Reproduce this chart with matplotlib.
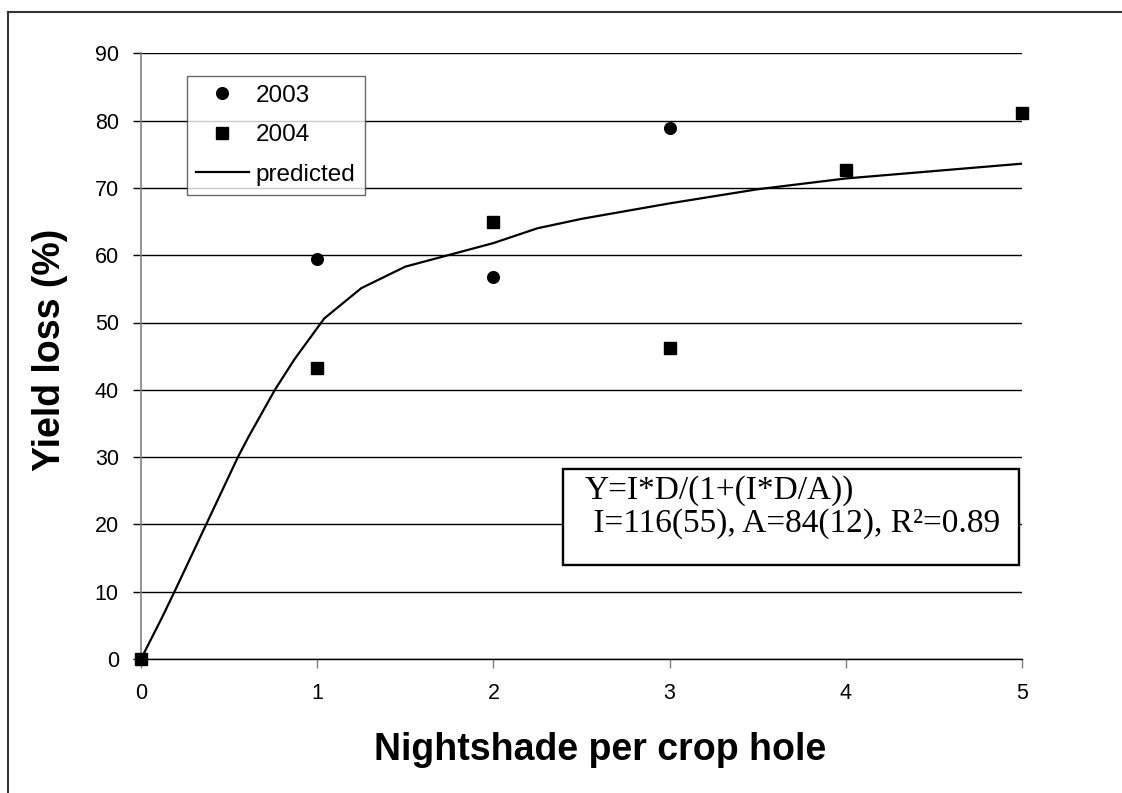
import matplotlib
matplotlib.use("Agg")
import matplotlib.pyplot as plt
from matplotlib.lines import Line2D
from matplotlib.patches import Rectangle

plt.rcParams["font.family"] = ["Liberation Sans", "DejaVu Sans"]

# observed yield loss by nightshade density
density_2003 = [1, 2, 3]
loss_2003 = [59.5, 56.8, 78.9]
density_2004 = [0, 1, 2, 3, 4, 5]
loss_2004 = [0.0, 43.2, 64.9, 46.2, 72.6, 81.2]

# fitted curve
density_pred = [0, 0.12, 0.19, 0.37, 0.55, 0.61, 0.76, 0.87, 1.04, 1.25,
                1.5, 2.0, 2.25, 2.5, 3.0, 3.5, 4.0, 5.0]
loss_pred = [0, 6.2, 10, 20, 30, 33, 40, 44.5, 50.6, 55.1,
             58.3, 61.8, 64.0, 65.4, 67.7, 69.8, 71.4, 73.6]

yticks = list(range(0, 91, 10))
xticks = [0, 1, 2, 3, 4, 5]

W, H = 1122, 793
fig = plt.figure(figsize=(W / 100, H / 100), dpi=100)
ax = fig.add_axes([141 / W, 1 - 659 / H, (1022 - 141) / W, (659 - 53.3) / H])

ax.plot(density_pred, loss_pred, color="black", lw=1.6, label="predicted", zorder=3)
ax.plot(density_2003, loss_2003, "o", color="black", ms=8.4, label="2003",
        zorder=4, clip_on=False)
ax.plot(density_2004, loss_2004, "s", color="black", ms=8.2, label="2004",
        zorder=4, clip_on=False)

ax.set_xlim(0, 5)
ax.set_ylim(0, 90)
ax.set_xticks(xticks)
ax.set_yticks(yticks)
ax.yaxis.grid(True, color="black", lw=1.0)
ax.set_axisbelow(True)

for s in ("top", "right"):
    ax.spines[s].set_visible(False)
ax.spines["left"].set_color("#808080")
ax.spines["left"].set_linewidth(1.2)
ax.spines["bottom"].set_color("black")
ax.spines["bottom"].set_linewidth(1.0)

ax.tick_params(axis="y", direction="out", length=6, width=1, color="black",
               pad=10, labelsize=15.5)
ax.tick_params(axis="x", direction="out", length=6.5, width=1, color="#808080",
               pad=11, labelsize=15.5)

handles, labels = ax.get_legend_handles_labels()
order = [1, 2, 0]
leg = ax.legend([handles[i] for i in order], [labels[i] for i in order],
                loc="upper left", bbox_to_anchor=((186.7 - 141) / (1022 - 141),
                                                  1 - (75.7 - 53.3) / (659 - 53.3)),
                borderaxespad=0, fontsize=17.5, frameon=True, fancybox=False,
                handlelength=2.18, handletextpad=0.28, borderpad=0.38,
                labelspacing=0.72)
leg.get_frame().set_edgecolor("#404040")
leg.get_frame().set_linewidth(1.0)

# equation box
fig.add_artist(Rectangle((563 / W, 1 - 564.7 / H), (1019 - 563) / W, (564.7 - 468.7) / H,
                         transform=fig.transFigure, fill=True, facecolor="white",
                         edgecolor="black", lw=1.7, zorder=5))
fig.text(585 / W, 1 - 491 / H, "Y=I*D/(1+(I*D/A))", family="Liberation Serif",
         fontsize=24, va="center", ha="left", zorder=6)
fig.text(585 / W, 1 - 524 / H, " I=116(55), A=84(12), R\u00b2=0.89", family="Liberation Serif",
         fontsize=24, va="center", ha="left", zorder=6)

fig.text(600 / W, 1 - 750 / H, "Nightshade per crop hole", fontsize=27,
         fontweight="bold", ha="center", va="center")
fig.text(50 / W, 1 - 350 / H, "Yield loss (%)", fontsize=27, fontweight="bold",
         rotation=90, ha="center", va="center")

# outer frame
fig.add_artist(Line2D([8 / W, 8 / W], [0, 1 - 12 / H], transform=fig.transFigure,
                      color="#333333", lw=1.5))
fig.add_artist(Line2D([8 / W, 1], [1 - 12 / H, 1 - 12 / H], transform=fig.transFigure,
                      color="#333333", lw=1.5))

fig.savefig("out.png", dpi=100)
